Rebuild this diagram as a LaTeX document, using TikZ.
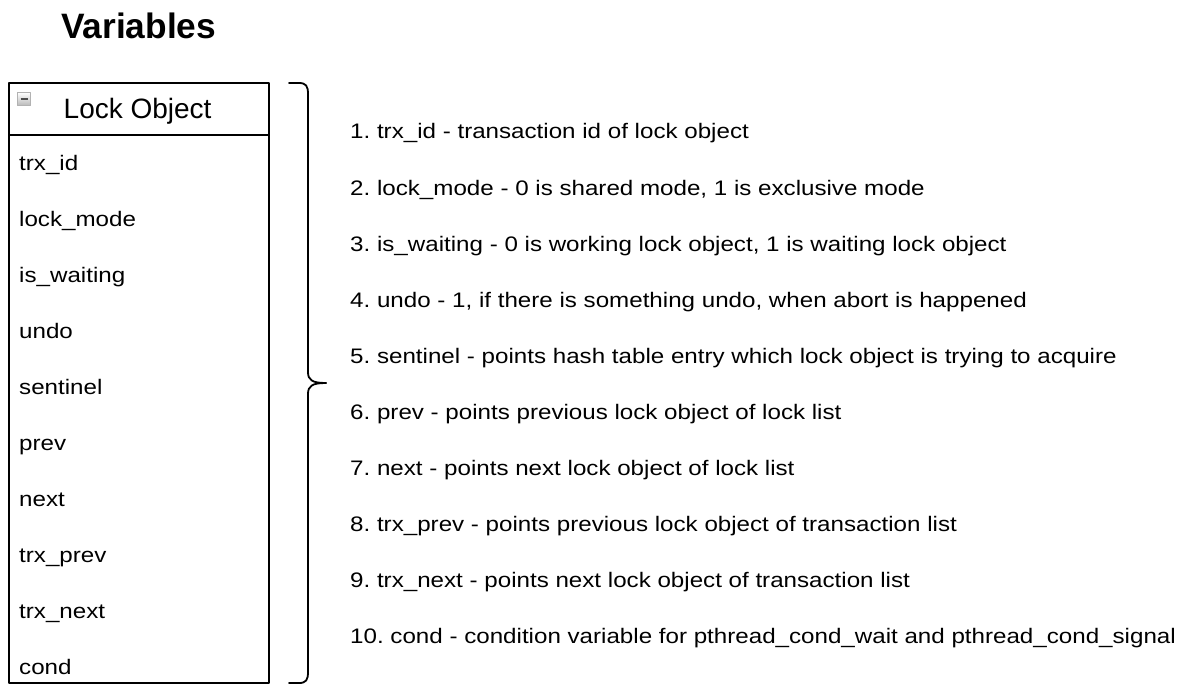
\documentclass[tikz,border=0pt]{standalone}
\usepackage{fontspec}
\setmainfont{Liberation Sans}
\newfontfamily\bodyfont{Liberation Sans}[FakeStretch=1.15]
\frenchspacing
\begin{document}
\begin{tikzpicture}[x=1pt,y=-1pt,
  line join=round,
  itemtext/.style={anchor=base west,inner sep=0pt,font=\bodyfont\fontsize{21}{25}\selectfont},
  desctext/.style={anchor=base west,inner sep=0pt,font=\bodyfont\fontsize{21}{25}\selectfont},
  boxline/.style={draw=black,line width=1.8pt},
  braceline/.style={draw=black,line width=1.8pt,line cap=round}]
\useasboundingbox (0,0) rectangle (1180,690);
\fill[white] (0,0) rectangle (1180,690);

% title
\node[anchor=base west,inner sep=0pt,font=\bfseries\fontsize{35.3}{40}\selectfont] (title) at (61,39) {Variables};

% class box
\draw[boxline] (9,83) rectangle (269,683);
\draw[boxline] (9,135) -- (269,135);

% collapse icon
\shade[top color=white,bottom color=gray!55,draw=gray!60,line width=0.8pt] (17.5,92.5) rectangle (30.5,105.5);
\draw[line width=2.2pt,draw=black!70] (20.5,99) -- (27.5,99);

\node[anchor=base west,inner sep=0pt,font=\fontsize{28}{32}\selectfont] (header) at (63.5,119) {Lock Object};

\foreach \t [count=\i from 0] in {trx\_id,lock\_mode,is\_waiting,undo,sentinel,prev,next,trx\_prev,trx\_next,cond}
  \node[itemtext] (item\i) at (19,170+56*\i) {\t};

% brace
\draw[braceline] (289,83) -- (299,83) .. controls (306,83) and (308,86) .. (308,94)
  -- (308,372) .. controls (308,380) and (312,383) .. (326,383);
\draw[braceline] (326,383) .. controls (312,383) and (308,386) .. (308,394)
  -- (308,672) .. controls (308,680) and (306,683) .. (299,683) -- (289,683);
\coordinate (bracetip) at (326,383);

% descriptions
\foreach \t [count=\i from 0] in {
  {1. trx\_id - transaction id of lock object},
  {2. lock\_mode - 0 is shared mode, 1 is exclusive mode},
  {3. is\_waiting - 0 is working lock object, 1 is waiting lock object},
  {4. undo - 1, if there is something undo, when abort is happened},
  {5. sentinel - points hash table entry which lock object is trying to acquire},
  {6. prev - points previous lock object of lock list},
  {7. next - points next lock object of lock list},
  {8. trx\_prev - points previous lock object of transaction list},
  {9. trx\_next - points next lock object of transaction list},
  {10. cond - condition variable for pthread\_cond\_wait and pthread\_cond\_signal}}
  \node[desctext] (desc\i) at (350,139+56*\i) {\t};
\end{tikzpicture}
\end{document}
